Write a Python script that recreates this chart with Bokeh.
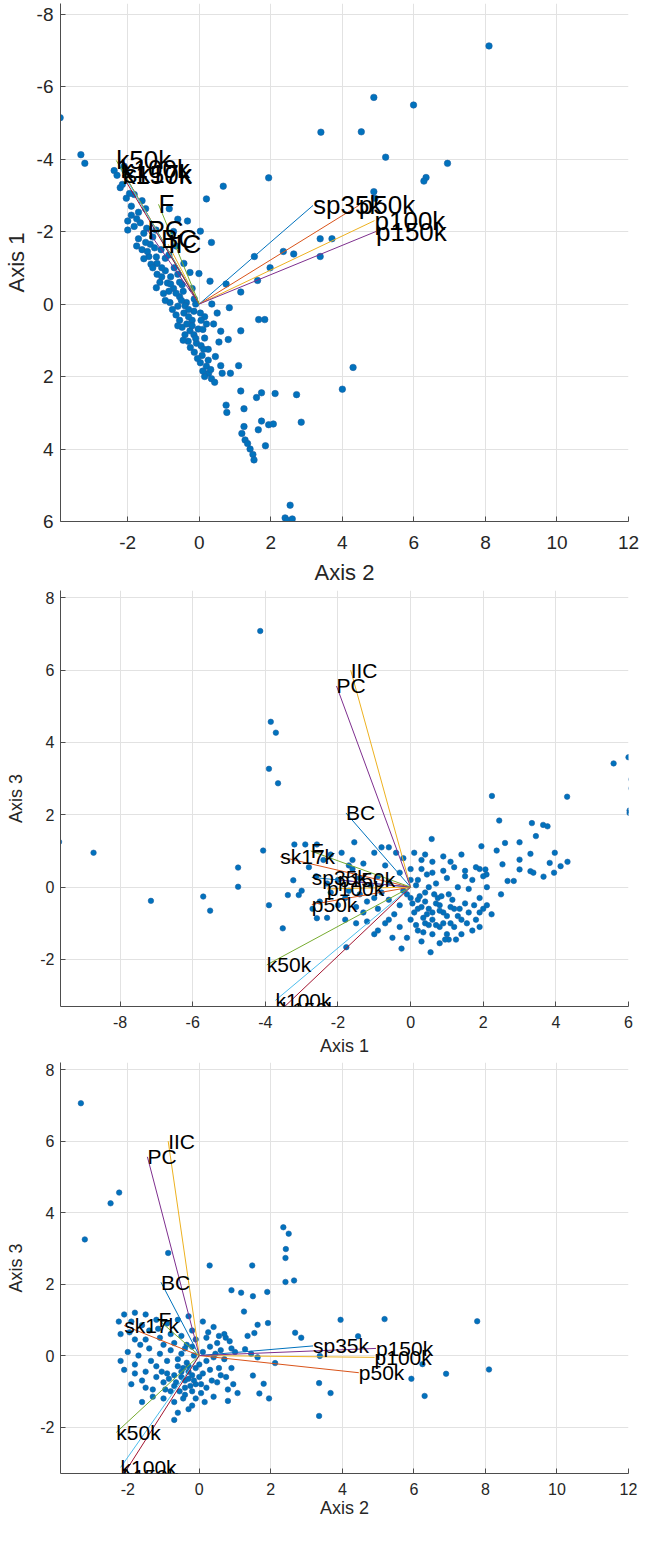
from bokeh.plotting import figure
from bokeh.models import Range1d, FixedTicker, ColumnDataSource, LabelSet, PrintfTickFormatter
from bokeh.layouts import column
from bokeh.core.properties import value
from bokeh.embed import file_html
from bokeh.resources import INLINE

# ---------------- data ----------------
var_names = ["BC", "sk17k", "IIC", "PC", "k50k", "k100k", "k150k",
             "sp35k", "p50k", "p100k", "p150k", "F"]
var_axis1 = [-1.78, -3.59, -1.65, -2.04, -3.96, -3.72, -3.55,
             -2.72, -2.72, -2.30, -2.00, -2.75]
var_axis2 = [-1.07, -2.10, -0.87, -1.45, -2.32, -2.20, -2.15,
             3.18, 4.46, 4.90, 4.94, -1.14]
var_axis3 = [2.05, 0.84, 6.00, 5.56, -2.15, -3.13, -3.38,
             0.27, -0.48, -0.05, 0.20, 1.00]

# panel 1: scores (Axis 2 horizontal, Axis 1 vertical)
p1_axis2 = [-3.89, -3.31, -3.2, 8.1, 4.88, 5.99, 3.4, 4.53, 5.21, 6.94, 6.34, 6.28, 4.88, 4.91,
            1.94, 0.67, 0.2, 0.03, 0.34, 3.38, 3.71, 3.38, 2.35, 2.64, 1.54, 1.98, 1.63, 0.75,
            1.16, -0.01, 0.3, 4.3, 4.0, 1.66, 1.83, 0.84, 1.16, 0.81, 0.64, 0.87, 1.1, 1.16,
            1.6, 2.12, 2.72, 1.74, 0.75, 0.77, 1.25, 2.85, 1.74, 1.94, 2.07, 1.65, 1.25, 1.85,
            1.19, 1.28, 1.35, 1.42, 1.5, 1.53, 2.54, 2.4, 2.47, 2.6,
            0.35, 0.5, 0.4, 0.6, 0.55, 0.25, 0.45,
            -2.38, -2.21, -2.04, -2.1, -1.82, -1.5, -1.7, -2.0, -2.0, -1.82, -1.65, -1.47, -1.21,
            -0.84, -0.6, -0.33, -0.72, -1.37, -1.07, -1.6, -1.7, -1.41, -1.18, -0.95, -1.18,
            -0.95, -0.89, -0.6, -0.43, -0.26, -1.0, -0.72, -0.48, -0.2, -0.82, -0.6, -0.36,
            -0.14, -0.65, -0.43, -0.2, 0.03, -0.48, -0.26, -0.03, 0.2, -0.31, -0.08, 0.15,
            -0.14, 0.08, 0.03, 0.2, 0.26, 0.34, 0.43, 0.32,
            -1.9, -1.75, -1.55, -1.3, -1.5, -1.25, -1.35, -1.05, -1.1, -0.8, -0.7, -0.55,
            -0.95, -0.75, -0.55, -0.4, -0.3, -0.55, -0.15, -0.35, -0.15, -0.4, 0.05, -0.05,
            0.12, -0.25, 0.15, 0.1, -0.65, -0.85, -1.2, -1.45, -0.45, -0.1, 0.15, -2.15,
            -2.3, -1.95,
            -0.5, -0.3, -0.6, -0.2, -0.45, -0.1, 0.05, -0.8, -1.05, -1.3, -1.55, -1.75, -1.9,
            -1.6, -1.2, -0.85, -0.65, 0.1, 0.25, 0.6]
p1_axis1 = [-5.14, -4.12, -3.88, -7.12, -5.7, -5.49, -4.74, -4.75, -4.05, -3.88, -3.49, -3.39,
            -3.1, -2.92, -3.48, -3.25, -2.9, -2.01, -1.7, -1.8, -1.8, -1.31, -1.45, -1.38,
            -1.31, -1.0, -0.65, -0.55, -0.33, -0.84, -0.63, 1.75, 2.35, 0.43, 0.43, 0.1, 0.74,
            0.98, 1.91, 1.91, 1.7, 2.4, 2.58, 2.47, 2.5, 2.45, 2.79, 2.99, 2.89, 3.26, 3.23,
            3.33, 3.31, 3.47, 3.38, 3.91, 3.57, 3.75, 3.85, 4.0, 4.15, 4.3, 5.55, 5.9, 5.97, 5.93,
            0.0, 0.25, 0.55, 0.75, 1.05, 1.25, 1.45,
            -3.68, -3.21, -2.92, -3.8, -3.02, -2.63, -2.53, -2.29, -2.04, -2.14, -2.24, -2.09,
            -2.04, -2.63, -2.34, -2.29, -2.0, -1.65, -1.5, -1.5, -1.8, -1.31, -1.12, -1.26,
            -0.82, -0.92, -0.58, -0.82, -1.12, -0.87, -0.29, -0.43, -0.53, -0.43, -0.04, 0.06,
            -0.04, -0.14, 0.3, 0.25, 0.45, 0.25, 0.64, 0.74, 0.69, 0.55, 1.03, 1.08, 0.94, 1.33,
            1.42, 1.62, 1.72, 1.91, 2.06, 2.16, 1.81,
            -2.7, -2.35, -1.95, -1.85, -1.7, -1.55, -1.1, -1.0, -0.6, -0.75, -1.0, -0.6, -0.1,
            0.15, -0.2, 0.05, 0.35, 0.45, 0.2, 0.55, 0.85, 0.85, 1.15, 1.5, 1.25, 1.2, 2.0, 0.7,
            -0.3, -0.35, -1.3, -1.45, -0.35, 0.0, 0.35, -3.3, -3.55, -3.05,
            -0.1, 0.15, 0.6, 0.6, 1.0, 0.95, 0.45, -0.55, -0.75, -1.0, -1.25, -1.6, -2.45,
            -2.85, -0.45, -1.35, -1.6, 1.85, 1.55, 1.7]

# panel 2: scores (Axis 1 horizontal, Axis 3 vertical)
p2_axis1 = [-9.68, -8.73, -7.15, -5.71, -5.52, -4.75, -4.75, -4.14, -3.85, -3.71, -3.9, -3.65,
            -4.06, -3.9, -3.52, -3.23, -3.38, -3.08, -2.58, -1.77, -3.2, -2.9, -2.58, -1.55,
            0.58, 2.24, 2.44, 4.31, 5.59, 6.0, 6.08, 6.08, 6.03, 6.03, 3.34, 3.65, 3.77, 3.45,
            3.0, 3.97, 4.32, 4.13, 3.83, 3.95, 3.66, 3.3, 3.3, 3.38, 3.0, 3.0, 2.6, 2.37, 2.53,
            2.67, 2.84, 2.49, 2.23, 1.95, 2.06, 2.09,
            -2.2, -1.9, -1.6, -1.3, -1.0, -0.8, -0.6, -0.4, -0.2, 0.1, 0.3, 0.6, 0.9, 1.2, 1.5,
            1.9, 2.0, -2.6, -2.3, -2.0, -1.7, -1.4, -1.1, -0.9, -0.6, -0.3, 0.0, 0.2, 0.45, 0.7,
            1.0, 1.3, 1.6, 1.9, -2.0, -1.8, -1.5, -1.2, -0.9, -0.6, -0.3, 0.0, 0.2, 0.4, 0.6,
            0.8, 1.0, 1.2, 1.4, 1.6, 1.8, -1.8, -1.5, -1.2, -0.9, -0.6, -0.3, 0.0, 0.2, 0.4, 0.6,
            0.8, 1.0, 1.2, 1.4, 1.7, 1.9, -0.5, -0.1, 0.3, 0.55, 0.8, 1.05,
            0.3, 0.5, 0.7, 0.9, 1.1, 0.1, -0.1, 0.6, 0.9, 1.3, 0.35, 0.75, 1.05, -0.45, -0.8,
            0.15, 0.5, -1.3, 1.5, 2.0, -2.2, -2.5, -1.6, -0.7, 0.4, 0.9, 1.5, 1.8,
            -0.2, 0.05, 0.25, 0.45, 0.65, 0.85, 1.15, 1.35, 1.55, 1.75, 0.15, 0.35, 0.7, 0.95,
            1.25, -0.7, -1.0, -1.4, -1.7, -2.4, -2.8, -3.0, -2.7, -2.3, -1.0, -0.25, 0.0, 0.3,
            0.6, 1.1, 1.4, 1.7, 2.1, 2.1, 1.9, 0.4, 0.8, 1.1, 0.5, 0.2]
p2_axis3 = [1.25, 0.95, -0.38, -0.26, -0.65, 0.54, 0.01, 7.08, 4.57, 4.27, 3.27, 2.87, 1.01,
            -0.5, -1.14, 0.19, -0.22, -0.22, -0.86, -1.66, 1.18, 1.18, 1.18, 1.24, 1.33, 2.52,
            1.84, 2.5, 3.42, 3.59, 2.98, 2.73, 2.12, 2.05, 1.77, 1.72, 1.68, 1.41, 1.24, 0.95,
            0.7, 0.58, 0.67, 0.4, 0.29, 0.92, 0.44, 0.4, 0.76, 0.49, 1.22, 1.01, 0.63, 0.17,
            0.17, -0.2, -0.75, 1.13, 0.49, 0.35,
            0.9, 0.95, 0.75, 0.65, 0.95, 1.1, 1.1, 0.95, 0.8, 0.95, 0.75, 0.7, 0.85, 0.55, 0.45,
            0.5, 0.3, 0.3, 0.1, 0.2, -0.1, 0.25, 0.05, 0.3, 0.15, 0.4, 0.5, 0.2, 0.35, 0.1, 0.25,
            0.0, -0.05, -0.3, -0.5, -0.3, -0.55, -0.4, -0.6, -0.35, -0.5, -0.3, -0.6, -0.4, -0.7,
            -0.5, -0.8, -0.6, -0.9, -0.7, -0.9, -0.9, -1.0, -0.95, -1.2, -0.9, -1.1, -0.9, -1.2,
            -1.0, -1.3, -1.1, -1.3, -1.1, -1.3, -1.2, -1.1, -1.4, -1.4, -1.5, -1.8, -1.55, -1.45,
            -0.55, -0.6, -0.45, -0.7, -0.55, -0.7, -0.2, -0.9, -1.0, -0.8, -0.85, -0.3, -0.2,
            -0.75, -0.15, 0.05, 0.0, -0.7, -0.45, -0.6, -0.15, -0.4, 0.5, 0.6, 0.9, 0.45, 0.3, 0.55,
            -0.1, -0.45, -0.25, -0.75, -0.2, -0.25, -0.35, -0.6, -1.0, -0.5, -1.05, -1.25, -1.05,
            -1.45, -1.45, -1.0, -0.3, -0.2, 0.6, 0.75, 0.55, -0.1, -0.6, -0.85, -1.3, -1.7, 0.2,
            0.5, 0.4, 0.7, 0.9, 0.2, 0.0, -0.5, -0.7, -0.15, -0.65, -1.0, -1.05, -0.35]

# panel 3: scores (Axis 2 horizontal, Axis 3 vertical)
p3_axis2 = [-3.31, -3.2, -2.48, -2.24, -0.87, 0.29, 1.48, 0.9, 1.17, 1.5, 1.9, 2.35, 2.5, 2.42,
            2.41, 2.41, 2.65, 3.95, 5.18, 7.77, 12.2, 8.1, 6.9, 5.93, 6.3, 6.24, 4.44, 3.35,
            3.67, 3.35, 3.37, 2.85, 2.68, 2.12, 1.95, 1.68, 1.8, 1.5, 1.07, 0.8, 1.28, 1.63,
            0.74, 1.25, 1.63, 1.92, 1.54, 1.35, 1.45,
            -2.1, -1.8, -1.5, -1.9, -1.6, -1.2, -0.9, -0.6, -0.3, 0.1, 0.4, 0.7,
            -2.2, -1.8, -1.4, -1.1, -0.8, -0.5, -0.2, 0.2, 0.5, 0.9,
            -2.0, -1.7, -1.4, -1.1, -0.8, -0.5, -0.2, 0.1, 0.4, 0.7, 1.0,
            -2.1, -1.8, -1.5, -1.2, -0.9, -0.6, -0.3, 0.0, 0.3, 0.6, 0.9,
            -1.9, -1.6, -1.3, -1.0, -0.7, -0.4, -0.1, 0.2, 0.5, 0.8,
            -1.6, -1.3, -1.0, -0.7, -0.4, -0.1, 0.15, 0.4, -0.6, -0.3, -0.7,
            -0.5, -0.3, -0.2, -0.4, -0.2, 0.0, -0.6, -0.35, -0.1, 0.1, -0.7, -0.45, -0.25, 0.05,
            -0.55, -0.15, -0.9, -1.2, -1.5, -1.0, 0.3, 0.6, -0.8, -0.35,
            -0.5, -0.3, -0.15, 0.05, -0.65, -0.45, -0.85, -1.05, -1.35, -1.65, -1.95, -2.25,
            -1.15, -0.7, -0.4, 0.2, 0.35, 0.55, 0.75, 0.95, 0.25, 0.55, 0.85, -0.2, -0.95,
            -1.5, -1.8, -2.2, -0.1, 0.45]
p3_axis3 = [7.06, 3.25, 4.26, 4.56, 2.87, 2.52, 2.52, 1.83, 1.76, 1.66, 1.78, 3.59, 3.41, 2.98,
            2.73, 2.06, 2.1, 1.0, 1.02, 0.96, 1.25, -0.39, -0.51, -0.65, -1.13, -0.24, 0.54,
            -0.77, -1.05, -1.69, -0.01, 0.5, 0.64, -0.21, -1.2, -1.06, -0.79, -0.56, -1.05,
            -1.27, 0.18, -0.05, 0.5, 1.23, 0.86, 0.91, 0.63, 0.55, 0.05,
            1.15, 1.2, 1.15, 0.95, 0.85, 1.0, 0.9, 1.0, 1.1, 0.95, 0.8, 0.6,
            0.6, 0.45, 0.7, 0.5, 0.6, 0.55, 0.7, 0.5, 0.35, 0.2,
            0.1, 0.0, 0.2, 0.05, 0.15, 0.05, 0.25, 0.1, -0.05, -0.1, 0.1,
            -0.4, -0.25, -0.45, -0.3, -0.5, -0.3, -0.45, -0.25, -0.4, -0.55, -0.35,
            -0.8, -0.7, -0.95, -0.75, -0.85, -0.7, -0.8, -0.9, -0.75, -0.95,
            -1.3, -1.15, -1.2, -1.3, -1.1, -1.2, -1.3, -1.15, -1.6, -1.5, -1.8,
            -0.6, -0.65, -0.55, -0.9, -1.0, -0.6, -0.1, -0.2, -0.35, -0.5, -0.55, -0.35, -0.85,
            -1.05, -1.0, 0.0, -0.15, -0.6, 0.45, 0.3, 0.25, 0.15, -1.0, 0.3,
            -0.45, -0.3, -0.7, -0.8, -0.75, -1.2, -0.65, -0.45, -0.15, 0.3, 0.65, 0.95, 0.75,
            0.35, 0.2, -0.15, -0.7, -0.35, -0.6, -0.8, 0.65, 0.55, 0.4, -1.4, -0.95, -0.9, -0.5,
            -0.15, 0.45, 0.05]

# ---------------- style ----------------
VEC_COLORS = ["#0072BD", "#D95319", "#EDB120", "#7E2F8E", "#77AC30", "#4DBEEE", "#A2142F",
              "#0072BD", "#D95319", "#EDB120", "#7E2F8E", "#77AC30"]
FONT = "Liberation Sans"
AX_COLOR = "#4d4d4d"
TXT_COLOR = "#262626"
FIG_W = 640


def make_panel(xs, ys, vx, vy, x_rng, y_rng, xticks, yticks, xlabel, ylabel,
               height, top, bottom, right, tick_fs, lab_fs, vec_fs, dot,
               xl_standoff, xa_standoff, yl_standoff, ya_standoff):
    p = figure(width=FIG_W, height=height, x_range=Range1d(*x_rng), y_range=Range1d(*y_rng),
               output_backend="svg", toolbar_location=None,
               min_border_left=57, min_border_right=right,
               min_border_top=top, min_border_bottom=bottom)
    p.outline_line_color = None
    p.background_fill_color = "white"
    p.border_fill_color = "white"

    p.xaxis.ticker = FixedTicker(ticks=xticks)
    p.yaxis.ticker = FixedTicker(ticks=yticks)
    for ax in (p.xaxis[0], p.yaxis[0]):
        ax.formatter = PrintfTickFormatter(format="%d")
        ax.axis_line_color = AX_COLOR
        ax.major_tick_line_color = AX_COLOR
        ax.major_tick_in = 5
        ax.major_tick_out = 0
        ax.minor_tick_line_color = None
        ax.major_label_text_font = FONT
        ax.major_label_text_font_size = f"{tick_fs}px"
        ax.major_label_text_color = TXT_COLOR
        ax.major_label_text_line_height = 1.0
        ax.axis_label_text_font = FONT
        ax.axis_label_text_font_size = f"{lab_fs}px"
        ax.axis_label_text_font_style = "normal"
        ax.axis_label_text_color = TXT_COLOR
        ax.axis_label_text_line_height = 1.0
    p.xaxis.axis_label = xlabel
    p.yaxis.axis_label = ylabel
    p.xaxis.major_label_standoff = xl_standoff
    p.xaxis.axis_label_standoff = xa_standoff
    p.yaxis.major_label_standoff = yl_standoff
    p.yaxis.axis_label_standoff = ya_standoff
    p.grid.grid_line_color = "#e2e2e2"
    p.grid.grid_line_width = 1

    p.scatter(xs, ys, size=dot, fill_color="#0072BD", line_color="#1d5fa3", line_width=0.6)

    n = len(vx)
    p.segment(x0=[0] * n, y0=[0] * n, x1=vx, y1=vy, line_color=VEC_COLORS[:n], line_width=1)

    src = ColumnDataSource(dict(x=vx, y=vy, name=var_names))
    labels = LabelSet(x="x", y="y", text="name", source=src,
                      text_font=value(FONT), text_font_size=f"{vec_fs}px",
                      text_color="black", text_align="left", text_baseline="middle")
    p.add_layout(labels)
    return p


p1 = make_panel(p1_axis2, p1_axis1, var_axis2, var_axis1,
                (-3.88, 12.0), (6.0, -8.29),
                [-2, 0, 2, 4, 6, 8, 10, 12], [-8, -6, -4, -2, 0, 2, 4, 6],
                "Axis 2", "Axis 1",
                height=587, top=3, bottom=63, right=3,
                tick_fs=19, lab_fs=22, vec_fs=26, dot=6.5,
                xl_standoff=14, xa_standoff=8, yl_standoff=7, ya_standoff=5)

p2 = make_panel(p2_axis1, p2_axis3, var_axis1, var_axis3,
                (-9.64, 6.0), (-3.3, 8.2),
                [-8, -6, -4, -2, 0, 2, 4, 6], [-2, 0, 2, 4, 6, 8],
                "Axis 1", "Axis 3",
                height=471, top=3, bottom=48, right=12,
                tick_fs=16, lab_fs=18, vec_fs=21, dot=5.5,
                xl_standoff=9, xa_standoff=5, yl_standoff=6, ya_standoff=11)

p3 = make_panel(p3_axis2, p3_axis3, var_axis2, var_axis3,
                (-3.88, 12.0), (-3.3, 8.2),
                [-2, 0, 2, 4, 6, 8, 10, 12], [-2, 0, 2, 4, 6, 8],
                "Axis 2", "Axis 3",
                height=462, top=4, bottom=43, right=3,
                tick_fs=16, lab_fs=18, vec_fs=21, dot=5.5,
                xl_standoff=9, xa_standoff=0, yl_standoff=6, ya_standoff=11)

layout = column(p1, p2, p3, spacing=0)
open("out.html", "w").write(file_html(layout, INLINE))
